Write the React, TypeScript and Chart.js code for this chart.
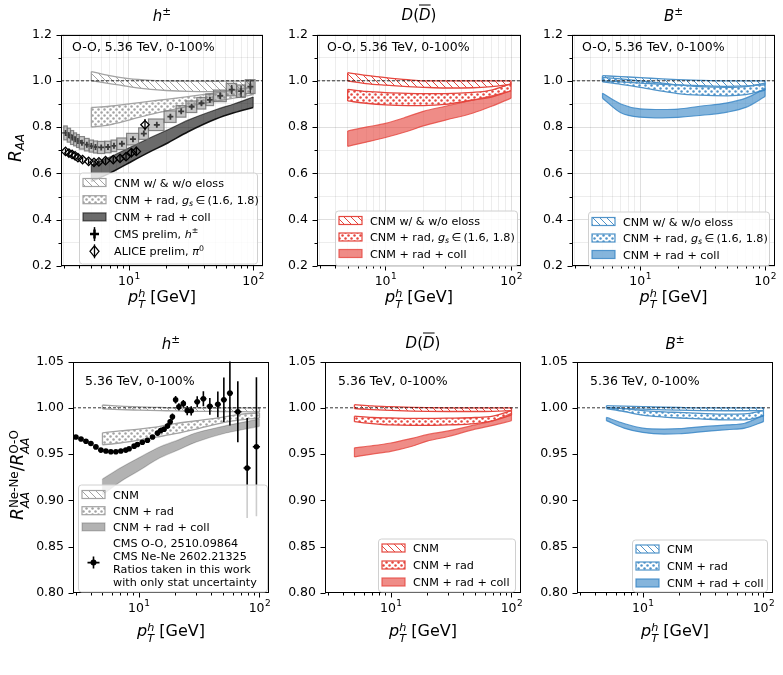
import React, { useEffect, useRef } from 'react';
import { Chart, registerables } from 'chart.js';

Chart.register(...registerables);

const FONT = '"DejaVu Sans", "Liberation Sans", sans-serif';
const X_MIN = 2.85;
const X_MAX = 120;
const X_TICKS = [3, 4, 5, 6, 7, 8, 9, 10, 20, 30, 40, 50, 60, 70, 80, 90, 100];

// theory pT grid
const PT = [5, 7, 10, 15, 20, 30, 50, 70, 100];

// ---------- O-O R_AA : h± ----------
const hCnmLo = [1.0, 0.988, 0.975, 0.963, 0.958, 0.954, 0.953, 0.96, 0.972];
const hCnmHi = [1.04, 1.022, 1.009, 1.002, 1.0, 0.999, 0.998, 0.999, 1.0];
const hRadLo = [0.8, 0.81, 0.83, 0.855, 0.87, 0.89, 0.912, 0.925, 0.94];
const hRadHi = [0.885, 0.89, 0.9, 0.912, 0.92, 0.932, 0.948, 0.96, 0.975];
const hCollLo = [0.565, 0.6, 0.645, 0.695, 0.728, 0.78, 0.835, 0.862, 0.885];
const hCollHi = [0.635, 0.67, 0.71, 0.755, 0.785, 0.83, 0.875, 0.9, 0.93];

// CMS prelim h± (O-O)
const cmsEdges = [3.0, 3.2, 3.4, 3.6, 3.8, 4.0, 4.4, 4.8, 5.2, 5.6, 6.4, 7.2, 8.0, 9.6, 12.0, 14.4, 19.2, 24.0, 28.8, 35.2, 41.6, 48.0, 60.8, 73.6, 86.4, 103.6];
const cmsPt = [3.1, 3.3, 3.5, 3.7, 3.9, 4.2, 4.6, 5.0, 5.4, 6.0, 6.8, 7.6, 8.8, 10.8, 13.2, 16.8, 21.6, 26.4, 32.0, 38.4, 44.8, 54.4, 67.2, 80.0, 95.0];
const cmsRaa = [0.775, 0.765, 0.755, 0.747, 0.74, 0.732, 0.724, 0.718, 0.714, 0.712, 0.714, 0.719, 0.728, 0.748, 0.772, 0.81, 0.845, 0.868, 0.888, 0.903, 0.918, 0.935, 0.962, 0.955, 0.975];
const cmsStat = [0.002, 0.002, 0.002, 0.002, 0.002, 0.002, 0.002, 0.002, 0.002, 0.002, 0.002, 0.002, 0.003, 0.003, 0.004, 0.005, 0.006, 0.007, 0.008, 0.01, 0.012, 0.015, 0.02, 0.025, 0.03];
const cmsSys = [0.03, 0.03, 0.03, 0.028, 0.028, 0.027, 0.027, 0.026, 0.026, 0.026, 0.025, 0.025, 0.025, 0.025, 0.025, 0.025, 0.025, 0.025, 0.025, 0.025, 0.025, 0.025, 0.027, 0.027, 0.03];

// ALICE prelim pi0 (O-O)
const alicePt = [3.1, 3.3, 3.5, 3.7, 3.9, 4.25, 4.75, 5.25, 5.75, 6.5, 7.5, 8.5, 9.5, 10.5, 11.5, 13.5];
const aliceRaa = [0.695, 0.688, 0.682, 0.676, 0.668, 0.66, 0.652, 0.648, 0.65, 0.655, 0.66, 0.665, 0.672, 0.69, 0.695, 0.81];
const aliceErr = [0.012, 0.012, 0.012, 0.012, 0.012, 0.012, 0.012, 0.012, 0.012, 0.013, 0.013, 0.014, 0.015, 0.02, 0.02, 0.025];

// ---------- O-O R_AA : D ----------
const dCnmLo = [1.0, 0.988, 0.981, 0.975, 0.972, 0.969, 0.97, 0.975, 0.985];
const dCnmHi = [1.035, 1.023, 1.014, 1.005, 1.0, 1.0, 1.0, 1.0, 1.0];
const dRadLo = [0.913, 0.903, 0.896, 0.893, 0.893, 0.898, 0.917, 0.93, 0.957];
const dRadHi = [0.963, 0.954, 0.949, 0.946, 0.945, 0.945, 0.95, 0.96, 0.988];
const dCollLo = [0.717, 0.735, 0.755, 0.782, 0.805, 0.83, 0.861, 0.89, 0.925];
const dCollHi = [0.783, 0.8, 0.816, 0.845, 0.868, 0.89, 0.917, 0.935, 0.957];

// ---------- O-O R_AA : B ----------
const bCnmLo = [1.0, 0.995, 0.99, 0.985, 0.982, 0.979, 0.976, 0.978, 0.983];
const bCnmHi = [1.022, 1.018, 1.014, 1.008, 1.005, 1.002, 1.0, 1.0, 1.0];
const bRadLo = [0.995, 0.985, 0.972, 0.955, 0.945, 0.938, 0.935, 0.94, 0.96];
const bRadHi = [1.015, 1.008, 1.0, 0.99, 0.982, 0.975, 0.972, 0.975, 0.99];
const bCollLo = [0.925, 0.862, 0.843, 0.84, 0.842, 0.85, 0.865, 0.885, 0.932];
const bCollHi = [0.946, 0.9, 0.879, 0.876, 0.878, 0.89, 0.905, 0.925, 0.967];

// ---------- Ne-Ne / O-O ratio : h± ----------
const hrCnmLo = [0.9988, 0.998, 0.9975, 0.997, 0.9966, 0.9962, 0.996, 0.9958, 0.9955];
const hrCnmHi = [1.003, 1.0018, 1.001, 1.0004, 1.0, 1.0, 1.0, 1.0, 1.0];
const hrRadLo = [0.96, 0.962, 0.965, 0.969, 0.972, 0.977, 0.984, 0.987, 0.989];
const hrRadHi = [0.973, 0.975, 0.977, 0.98, 0.983, 0.986, 0.99, 0.993, 0.9946];
const hrCollLo = [0.906, 0.92, 0.932, 0.946, 0.953, 0.963, 0.972, 0.976, 0.98];
const hrCollHi = [0.923, 0.935, 0.946, 0.958, 0.964, 0.973, 0.98, 0.984, 0.988];

// CMS Ne-Ne / O-O ratio (stat only)
const ratioPt = [3.01, 3.32, 3.65, 4.01, 4.41, 4.85, 5.34, 5.87, 6.46, 7.1, 7.8, 8.32, 9.15, 9.75, 10.7, 11.8, 13.0, 14.3, 15.2, 16.2, 17.3, 18.2, 19.0, 20.2, 21.5, 23.4, 25.2, 27.2, 30.5, 34.3, 38.8, 45.2, 50.7, 56.9, 66.2, 79.1, 94.4];
const ratioVal = [0.9684, 0.9663, 0.9639, 0.9614, 0.9578, 0.9543, 0.9533, 0.9525, 0.9525, 0.9533, 0.9543, 0.9557, 0.9586, 0.9603, 0.9628, 0.9649, 0.9684, 0.9727, 0.9755, 0.9769, 0.9804, 0.985, 0.9903, 1.0087, 1.001, 1.0045, 0.997, 0.9967, 1.0066, 1.0098, 1.0016, 1.0037, 1.0087, 1.0158, 0.9957, 0.935, 0.958];
const ratioErr = [0.0015, 0.0015, 0.0015, 0.0015, 0.0015, 0.0015, 0.0015, 0.0015, 0.0015, 0.0015, 0.0015, 0.002, 0.002, 0.002, 0.002, 0.002, 0.002, 0.0025, 0.0025, 0.003, 0.003, 0.003, 0.0035, 0.004, 0.004, 0.004, 0.005, 0.005, 0.006, 0.008, 0.009, 0.014, 0.024, 0.035, 0.033, 0.054, 0.075];

// ---------- ratio : D ----------
const drCnmLo = [0.9991, 0.998, 0.9972, 0.9965, 0.9962, 0.996, 0.996, 0.9962, 0.9968];
const drCnmHi = [1.0034, 1.002, 1.0012, 1.0005, 1.0002, 1.0, 1.0, 1.0, 1.0];
const drRadLo = [0.985, 0.983, 0.9815, 0.981, 0.981, 0.9815, 0.983, 0.986, 0.992];
const drRadHi = [0.991, 0.9895, 0.989, 0.9885, 0.9885, 0.9888, 0.9895, 0.991, 0.997];
const drCollLo = [0.947, 0.95, 0.953, 0.9585, 0.964, 0.969, 0.977, 0.981, 0.986];
const drCollHi = [0.9568, 0.959, 0.962, 0.967, 0.971, 0.975, 0.9815, 0.986, 0.994];

// ---------- ratio : B ----------
const brCnmLo = [1.0, 0.9992, 0.9985, 0.9978, 0.9974, 0.997, 0.9968, 0.9968, 0.997];
const brCnmHi = [1.0023, 1.0018, 1.0012, 1.0006, 1.0003, 1.0, 1.0, 1.0, 1.0];
const brRadLo = [0.9992, 0.996, 0.992, 0.99, 0.989, 0.988, 0.987, 0.987, 0.991];
const brRadHi = [1.0005, 0.999, 0.997, 0.9955, 0.995, 0.994, 0.9932, 0.9935, 0.997];
const brCollLo = [0.9861, 0.978, 0.9734, 0.9716, 0.972, 0.974, 0.9765, 0.978, 0.985];
const brCollHi = [0.9896, 0.983, 0.978, 0.977, 0.9775, 0.9795, 0.9815, 0.9833, 0.992];

// ---------- styles ----------
const GRAY = '#a3a3a3';
const RED = '#e5463e';
const BLUE = '#4f93c9';

type Seg = { t: string; i?: boolean; sub?: boolean; sup?: boolean };
type Kind = 'hatch' | 'dots' | 'fill';
interface Band { lo: number[]; hi: number[]; kind: Kind; edge: string; ink: string; lw?: number; loEdge?: string }
interface Series { kind: 'cms' | 'alice' | 'ratio'; x: number[]; y: number[]; err: number[]; sys?: number[]; edges?: number[] }
interface LegItem { sw: Kind | 'cms' | 'alice' | 'ratio'; band?: number; lines: Seg[][] }
interface PanelSpec {
  area: [number, number, number, number];
  yMin: number; yMax: number; yStep: number; minorY: boolean; digits: number; grid: boolean;
  bands: Band[]; series: Series[];
  note: string; noteAt: [number, number];
  legend: { rect: [number, number, number, number]; first: number; rowH: number; lineH: number; items: LegItem[] };
}

const T = (t: string): Seg => ({ t });
const I = (t: string): Seg => ({ t, i: true });

const topLegend = (gray: boolean): LegItem[] => {
  const base: LegItem[] = [
    { sw: 'hatch', band: 0, lines: [[T('CNM w/ & w/o eloss')]] },
    { sw: 'dots', band: 1, lines: [[T('CNM + rad, '), I('g'), { t: 's', i: true, sub: true }, T('\u2009\u2208\u2009(1.6, 1.8)')]] },
    { sw: 'fill', band: 2, lines: [[T('CNM + rad + coll')]] },
  ];
  if (gray) {
    base.push({ sw: 'cms', lines: [[T('CMS prelim, '), I('h'), { t: '\u00b1', sup: true }]] });
    base.push({ sw: 'alice', lines: [[T('ALICE prelim, '), I('\u03c0'), { t: '0', sup: true }]] });
  }
  return base;
};
const botLegend = (gray: boolean): LegItem[] => {
  const base: LegItem[] = [
    { sw: 'hatch', band: 0, lines: [[T('CNM')]] },
    { sw: 'dots', band: 1, lines: [[T('CNM + rad')]] },
    { sw: 'fill', band: 2, lines: [[T('CNM + rad + coll')]] },
  ];
  if (gray) {
    base.push({ sw: 'ratio', lines: [[T('CMS O-O, 2510.09864')], [T('CMS Ne-Ne 2602.21325')], [T('Ratios taken in this work')], [T('with only stat uncertainty')]] });
  }
  return base;
};

const mkBands = (c: string, fillC: string, collEdge: string, lo: number[][], hi: number[][], loEdge?: string): Band[] => [
  { lo: lo[0], hi: hi[0], kind: 'hatch', edge: c, ink: c },
  { lo: lo[1], hi: hi[1], kind: 'dots', edge: c, ink: c },
  { lo: lo[2], hi: hi[2], kind: 'fill', edge: collEdge, ink: fillC, loEdge },
];

const PANELS: PanelSpec[] = [
  {
    area: [61, 30, 263, 266], yMin: 0.2, yMax: 1.2, yStep: 0.1, minorY: true, digits: 1, grid: true,
    bands: mkBands(GRAY, 'rgba(0,0,0,0.58)', 'rgba(0,0,0,0.6)', [hCnmLo, hRadLo, hCollLo], [hCnmHi, hRadHi, hCollHi], 'rgba(0,0,0,0.9)'),
    series: [
      { kind: 'cms', x: cmsPt, y: cmsRaa, err: cmsStat, sys: cmsSys, edges: cmsEdges },
      { kind: 'alice', x: alicePt, y: aliceRaa, err: aliceErr },
    ],
    note: 'O-O, 5.36 TeV, 0-100%', noteAt: [11, 13],
    legend: { rect: [18, 138, 178, 91], first: 10, rowH: 17.2, lineH: 13, items: topLegend(true) },
  },
  {
    area: [317, 30, 521, 266], yMin: 0.2, yMax: 1.2, yStep: 0.1, minorY: true, digits: 1, grid: true,
    bands: mkBands(RED, 'rgba(229,70,62,0.62)', 'rgba(229,70,62,0.8)', [dCnmLo, dRadLo, dCollLo], [dCnmHi, dRadHi, dCollHi]),
    series: [],
    note: 'O-O, 5.36 TeV, 0-100%', noteAt: [10, 13],
    legend: { rect: [18, 176, 182, 55], first: 10, rowH: 16.5, lineH: 13, items: topLegend(false) },
  },
  {
    area: [572, 30, 775, 266], yMin: 0.2, yMax: 1.2, yStep: 0.1, minorY: true, digits: 1, grid: true,
    bands: mkBands(BLUE, 'rgba(52,131,196,0.6)', 'rgba(52,131,196,0.8)', [bCnmLo, bRadLo, bCollLo], [bCnmHi, bRadHi, bCollHi]),
    series: [],
    note: 'O-O, 5.36 TeV, 0-100%', noteAt: [10, 13],
    legend: { rect: [16, 177, 181, 54], first: 10, rowH: 16.5, lineH: 13, items: topLegend(false) },
  },
  {
    area: [73, 357, 269, 593], yMin: 0.8, yMax: 1.05, yStep: 0.05, minorY: false, digits: 2, grid: false,
    bands: mkBands(GRAY, 'rgba(0,0,0,0.3)', 'rgba(0,0,0,0.2)', [hrCnmLo, hrRadLo, hrCollLo], [hrCnmHi, hrRadHi, hrCollHi]),
    series: [{ kind: 'ratio', x: ratioPt, y: ratioVal, err: ratioErr }],
    note: '5.36 TeV, 0-100%', noteAt: [12, 20],
    legend: { rect: [5, 123, 189, 107], first: 10, rowH: 16.2, lineH: 13, items: botLegend(true) },
  },
  {
    area: [325, 357, 521, 593], yMin: 0.8, yMax: 1.05, yStep: 0.05, minorY: false, digits: 2, grid: false,
    bands: mkBands(RED, 'rgba(229,70,62,0.62)', 'rgba(229,70,62,0.8)', [drCnmLo, drRadLo, drCollLo], [drCnmHi, drRadHi, drCollHi]),
    series: [],
    note: '5.36 TeV, 0-100%', noteAt: [13, 20],
    legend: { rect: [53, 177, 137, 53], first: 9.5, rowH: 17, lineH: 13, items: botLegend(false) },
  },
  {
    area: [577, 357, 773, 593], yMin: 0.8, yMax: 1.05, yStep: 0.05, minorY: false, digits: 2, grid: false,
    bands: mkBands(BLUE, 'rgba(52,131,196,0.6)', 'rgba(52,131,196,0.8)', [brCnmLo, brRadLo, brCollLo], [brCnmHi, brRadHi, brCollHi]),
    series: [],
    note: '5.36 TeV, 0-100%', noteAt: [13, 20],
    legend: { rect: [55, 178, 135, 52], first: 9.5, rowH: 17, lineH: 13, items: botLegend(false) },
  },
];

// ---------- canvas helpers ----------
function makeHatch(color: string, s = 7, lw = 1): CanvasPattern {
  const c = document.createElement('canvas');
  c.width = s; c.height = s;
  const g = c.getContext('2d')!;
  g.strokeStyle = color; g.lineWidth = lw;
  g.beginPath();
  g.moveTo(-1, -1); g.lineTo(s + 1, s + 1);
  g.moveTo(s - 1, -1); g.lineTo(s + 1, 1);
  g.moveTo(-1, s - 1); g.lineTo(1, s + 1);
  g.stroke();
  return g.createPattern(c, 'repeat')!;
}
function makeDots(color: string, s = 6, r = 1.25): CanvasPattern {
  const c = document.createElement('canvas');
  c.width = s; c.height = s;
  const g = c.getContext('2d')!;
  g.fillStyle = color;
  for (const [x, y] of [[s * 0.25, s * 0.25], [s * 0.75, s * 0.75]]) {
    g.beginPath(); g.arc(x, y, r, 0, Math.PI * 2); g.fill();
  }
  return g.createPattern(c, 'repeat')!;
}

function drawRich(ctx: CanvasRenderingContext2D, segs: Seg[], x: number, y: number, size: number) {
  let cx = x;
  ctx.textBaseline = 'alphabetic';
  ctx.textAlign = 'left';
  for (const s of segs) {
    const fs = s.sub || s.sup ? size * 0.7 : size;
    ctx.font = `${s.i ? 'italic ' : ''}${fs}px ${FONT}`;
    const dy = s.sub ? size * 0.22 : s.sup ? -size * 0.42 : 0;
    ctx.fillText(s.t, cx, y + dy);
    cx += ctx.measureText(s.t).width;
  }
}

function drawSeries(chart: any, s: Series, part: 'under' | 'over') {
  const { ctx, chartArea: a, scales } = chart;
  const X = scales.x, Y = scales.y;
  ctx.save();
  ctx.beginPath(); ctx.rect(a.left, a.top, a.right - a.left, a.bottom - a.top); ctx.clip();
  if (s.kind === 'cms') {
    if (part === 'under') {
      ctx.strokeStyle = '#000'; ctx.lineWidth = 1.5;
      s.x.forEach((x, i) => {
        const px = X.getPixelForValue(x);
        ctx.beginPath();
        ctx.moveTo(px, Y.getPixelForValue(s.y[i] - s.err[i]));
        ctx.lineTo(px, Y.getPixelForValue(s.y[i] + s.err[i]));
        ctx.stroke();
      });
    } else {
      s.x.forEach((x, i) => {
        const x0 = X.getPixelForValue(s.edges![i]);
        const x1 = X.getPixelForValue(s.edges![i + 1]);
        const y0 = Y.getPixelForValue(s.y[i] + s.sys![i]);
        const y1 = Y.getPixelForValue(s.y[i] - s.sys![i]);
        ctx.fillStyle = 'rgba(128,128,128,0.45)';
        ctx.fillRect(x0, y0, x1 - x0, y1 - y0);
        ctx.strokeStyle = 'rgba(110,110,110,0.8)'; ctx.lineWidth = 1.2;
        ctx.strokeRect(x0, y0, x1 - x0, y1 - y0);
      });
    }
  } else if (s.kind === 'alice') {
    ctx.strokeStyle = '#000'; ctx.lineWidth = 1.3;
    s.x.forEach((x, i) => {
      const px = X.getPixelForValue(x);
      ctx.beginPath();
      ctx.moveTo(px, Y.getPixelForValue(s.y[i] - s.err[i]));
      ctx.lineTo(px, Y.getPixelForValue(s.y[i] + s.err[i]));
      ctx.stroke();
    });
  } else if (s.kind === 'ratio') {
    ctx.strokeStyle = '#000'; ctx.lineWidth = 1.6;
    const lg = s.x.map((v) => Math.log10(v));
    s.x.forEach((x, i) => {
      const px = X.getPixelForValue(x);
      const py = Y.getPixelForValue(s.y[i]);
      const dl = i > 0 ? (lg[i] - lg[i - 1]) / 2 : (lg[1] - lg[0]) / 2;
      const dr = i < lg.length - 1 ? (lg[i + 1] - lg[i]) / 2 : (lg[i] - lg[i - 1]) / 2;
      const hw = Math.min(dl, dr, 0.03);
      ctx.beginPath();
      ctx.moveTo(px, Y.getPixelForValue(s.y[i] - s.err[i]));
      ctx.lineTo(px, Y.getPixelForValue(s.y[i] + s.err[i]));
      ctx.moveTo(X.getPixelForValue(Math.pow(10, lg[i] - hw)), py);
      ctx.lineTo(X.getPixelForValue(Math.pow(10, lg[i] + hw)), py);
      ctx.stroke();
    });
  }
  ctx.restore();
}

function drawSwatch(ctx: CanvasRenderingContext2D, it: LegItem, spec: PanelSpec, pats: (CanvasPattern | string)[], x: number, cy: number) {
  const w = 23, h = 8;
  if (it.sw === 'hatch' || it.sw === 'dots' || it.sw === 'fill') {
    const b = spec.bands[it.band!];
    ctx.fillStyle = pats[it.band!] as any;
    ctx.fillRect(x, cy - h / 2, w, h);
    ctx.strokeStyle = b.edge; ctx.lineWidth = 1.2;
    ctx.strokeRect(x, cy - h / 2, w, h);
    return;
  }
  const mx = x + w / 2;
  ctx.strokeStyle = '#000'; ctx.fillStyle = '#000';
  if (it.sw === 'cms') {
    ctx.lineWidth = 1.5;
    ctx.beginPath(); ctx.moveTo(mx, cy - 7); ctx.lineTo(mx, cy + 7); ctx.stroke();
    ctx.lineWidth = 2.5;
    ctx.beginPath(); ctx.moveTo(mx - 4.5, cy); ctx.lineTo(mx + 4.5, cy); ctx.moveTo(mx, cy - 4.5); ctx.lineTo(mx, cy + 4.5); ctx.stroke();
  } else if (it.sw === 'alice') {
    ctx.lineWidth = 1.3;
    ctx.beginPath(); ctx.moveTo(mx, cy - 7); ctx.lineTo(mx, cy + 7); ctx.stroke();
    ctx.beginPath(); ctx.moveTo(mx, cy - 5.5); ctx.lineTo(mx + 4.5, cy); ctx.lineTo(mx, cy + 5.5); ctx.lineTo(mx - 4.5, cy); ctx.closePath(); ctx.stroke();
  } else if (it.sw === 'ratio') {
    ctx.lineWidth = 1.6;
    ctx.beginPath(); ctx.moveTo(mx, cy - 6); ctx.lineTo(mx, cy + 6); ctx.moveTo(mx - 6, cy); ctx.lineTo(mx + 6, cy); ctx.stroke();
    ctx.beginPath(); ctx.arc(mx, cy, 3, 0, Math.PI * 2); ctx.fill();
  }
}

function makePlugin(spec: PanelSpec, seriesAt: Map<number, Series>, pats: (CanvasPattern | string)[]) {
  return {
    id: 'panelDeco',
    beforeDatasetDraw(chart: any, args: any) {
      const s = seriesAt.get(args.index);
      if (s) drawSeries(chart, s, 'under');
    },
    afterDatasetDraw(chart: any, args: any) {
      const s = seriesAt.get(args.index);
      if (s && s.kind === 'cms') drawSeries(chart, s, 'over');
    },
    afterDatasetsDraw(chart: any) {
      const { ctx, chartArea: a, scales } = chart;
      ctx.save();
      ctx.strokeStyle = '#000'; ctx.lineWidth = 1;
      const L = Math.round(a.left) + 0.5, R = Math.round(a.right) - 0.5;
      const Tp = Math.round(a.top) + 0.5, B = Math.round(a.bottom) - 0.5;
      ctx.strokeRect(L, Tp, R - L, B - Tp);
      ctx.beginPath();
      for (const v of X_TICKS) {
        const px = Math.round(scales.x.getPixelForValue(v)) + 0.5;
        const len = v === 10 || v === 100 ? 5 : 3;
        ctx.moveTo(px, B); ctx.lineTo(px, B + len);
      }
      for (const t of scales.y.ticks) {
        const py = Math.round(scales.y.getPixelForValue(t.value)) + 0.5;
        const major = spec.minorY ? Math.round(t.value * 10) % 2 === 0 : true;
        ctx.moveTo(L, py); ctx.lineTo(L - (major ? 5 : 3), py);
      }
      ctx.stroke();
      ctx.fillStyle = '#000';
      for (const [v, e] of [[10, '1'], [100, '2']] as [number, string][]) {
        const px = scales.x.getPixelForValue(v);
        ctx.font = `12.5px ${FONT}`;
        const w1 = ctx.measureText('10').width;
        ctx.font = `9px ${FONT}`;
        const w2 = ctx.measureText(e).width;
        const x0 = px - (w1 + w2) / 2;
        ctx.textBaseline = 'alphabetic'; ctx.textAlign = 'left';
        ctx.font = `12.5px ${FONT}`;
        ctx.fillText('10', x0, B + 19);
        ctx.font = `9px ${FONT}`;
        ctx.fillText(e, x0 + w1 + 0.5, B + 13);
      }
      ctx.restore();
    },
    afterDraw(chart: any) {
      const { ctx, chartArea: a } = chart;
      ctx.save();
      ctx.fillStyle = '#000';
      ctx.font = `12.5px ${FONT}`;
      ctx.textBaseline = 'middle'; ctx.textAlign = 'left';
      ctx.fillText(spec.note, a.left + spec.noteAt[0], a.top + spec.noteAt[1]);
      const lg = spec.legend;
      const lx = a.left + lg.rect[0], ly = a.top + lg.rect[1], lw = lg.rect[2], lh = lg.rect[3];
      ctx.beginPath();
      (ctx as any).roundRect(lx + 0.5, ly + 0.5, lw, lh, 3);
      ctx.fillStyle = 'rgba(255,255,255,0.8)';
      ctx.fill();
      ctx.strokeStyle = '#d0d0d0'; ctx.lineWidth = 1;
      ctx.stroke();
      let cy = ly + lg.first;
      for (const it of lg.items) {
        const nl = it.lines.length;
        const centre = nl === 1 ? cy : cy + ((nl - 1) * lg.lineH) / 2;
        drawSwatch(ctx, it, spec, pats, lx + 4, centre);
        ctx.fillStyle = '#000';
        it.lines.forEach((ln, k) => drawRich(ctx, ln, lx + 35, cy + k * lg.lineH + 4, 11.2));
        cy += nl === 1 ? lg.rowH : nl * lg.lineH;
      }
      ctx.restore();
    },
  };
}

const PAD_L = 60, PAD_T = 12, PAD_R = 12, PAD_B = 32;

function Panel({ spec }: { spec: PanelSpec }) {
  const ref = useRef<HTMLCanvasElement | null>(null);
  const [L, Tp, R, B] = spec.area;
  const W = R - L + PAD_L + PAD_R;
  const H = B - Tp + PAD_T + PAD_B;
  useEffect(() => {
    const canvas = ref.current!;
    const pats: (CanvasPattern | string)[] = spec.bands.map((b) =>
      b.kind === 'hatch' ? makeHatch(b.ink, 7, 1) : b.kind === 'dots' ? makeDots(b.ink, 6, 1.25) : b.ink
    );
    const datasets: any[] = [];
    const seriesAt = new Map<number, Series>();
    spec.bands.forEach((b, bi) => {
      const lw = b.kind === 'fill' ? 1.2 : 1.3;
      datasets.push({
        data: PT.map((x, i) => ({ x, y: b.lo[i] })), borderColor: b.loEdge || b.edge, borderWidth: b.loEdge ? 1.6 : lw,
        pointRadius: 0, fill: false, cubicInterpolationMode: 'monotone',
      });
      datasets.push({
        data: PT.map((x, i) => ({ x, y: b.hi[i] })), borderColor: b.edge, borderWidth: lw,
        pointRadius: 0, fill: '-1', backgroundColor: pats[bi], cubicInterpolationMode: 'monotone',
      });
      datasets.push({ data: [{ x: PT[0], y: b.lo[0] }, { x: PT[0], y: b.hi[0] }], borderColor: b.edge, borderWidth: lw, pointRadius: 0, fill: false });
      const n = PT.length - 1;
      datasets.push({ data: [{ x: PT[n], y: b.lo[n] }, { x: PT[n], y: b.hi[n] }], borderColor: b.edge, borderWidth: lw, pointRadius: 0, fill: false });
    });
    spec.series.forEach((s) => {
      seriesAt.set(datasets.length, s);
      const style =
        s.kind === 'cms'
          ? { pointStyle: 'cross', pointRadius: 3, pointBorderWidth: 1.8, pointBorderColor: '#000', pointBackgroundColor: '#000' }
          : s.kind === 'alice'
          ? { pointStyle: 'rectRot', pointRadius: 4.2, pointBorderWidth: 1.3, pointBorderColor: '#000', pointBackgroundColor: 'rgba(0,0,0,0)' }
          : { pointStyle: 'circle', pointRadius: 2.8, pointBorderWidth: 0, pointBorderColor: '#000', pointBackgroundColor: '#000' };
      datasets.push({ data: s.x.map((x, i) => ({ x, y: s.y[i] })), showLine: false, fill: false, ...style });
    });
    datasets.push({
      data: [{ x: X_MIN, y: 1 }, { x: X_MAX, y: 1 }], borderColor: '#000', borderWidth: 0.8, borderDash: [3, 2],
      pointRadius: 0, fill: false,
    });
    datasets.forEach((d, i) => { d.order = datasets.length - i; });

    const gridColor = (major: boolean) => (major ? 'rgba(0,0,0,0.16)' : 'rgba(0,0,0,0.09)');
    const chart = new Chart(canvas, {
      type: 'line',
      data: { datasets },
      plugins: [makePlugin(spec, seriesAt, pats)],
      options: {
        animation: false,
        responsive: false,
        devicePixelRatio: 1,
        events: [],
        layout: { padding: { left: 0, top: PAD_T, right: PAD_R, bottom: 0 } },
        plugins: { legend: { display: false }, tooltip: { enabled: false }, title: { display: false } },
        scales: {
          x: {
            type: 'logarithmic', min: X_MIN, max: X_MAX,
            afterBuildTicks: (s: any) => { s.ticks = X_TICKS.map((v) => ({ value: v })); },
            afterFit: (s: any) => { s.height = PAD_B; },
            ticks: { display: false },
            border: { display: false },
            grid: {
              display: spec.grid, drawTicks: false, lineWidth: 0.8,
              color: (c: any) => gridColor(c.tick && (c.tick.value === 10 || c.tick.value === 100)),
            },
          },
          y: {
            type: 'linear', min: spec.yMin, max: spec.yMax,
            afterFit: (s: any) => { s.width = PAD_L; },
            ticks: {
              stepSize: spec.yStep, autoSkip: false, padding: 9, color: '#000',
              font: { family: FONT, size: 12.5 },
              callback: (v: any) => {
                const n = Number(v);
                if (spec.minorY && Math.round(n * 10) % 2 !== 0) return '';
                return n.toFixed(spec.digits);
              },
            },
            border: { display: false },
            grid: {
              display: spec.grid, drawTicks: false, lineWidth: 0.8,
              color: (c: any) => gridColor(c.tick && Math.round(c.tick.value * 10) % 2 === 0),
            },
          },
        },
      } as any,
    });
    return () => chart.destroy();
  }, [spec]);
  return (
    <canvas
      ref={ref}
      width={W}
      height={H}
      style={{ position: 'absolute', left: L - PAD_L, top: Tp - PAD_T, width: W, height: H }}
    />
  );
}

const abs = (x: number, y: number, size: number, rotate = false): React.CSSProperties => ({
  position: 'absolute', left: x, top: y, fontSize: size, whiteSpace: 'nowrap', lineHeight: 1, color: '#000',
  transform: `translate(-50%, -50%)${rotate ? ' rotate(-90deg)' : ''}`,
});
const stack = (top: React.ReactNode, bottom: React.ReactNode) => (
  <span style={{ display: 'inline-flex', flexDirection: 'column', fontSize: '0.7em', lineHeight: 0.95, verticalAlign: '0.45em', alignItems: 'flex-start' }}>
    <span>{top}</span>
    <span>{bottom}</span>
  </span>
);
const pLabel = (
  <span>
    <i>p</i>
    {stack(<i>h</i>, <i>T</i>)}
    {' [GeV]'}
  </span>
);
const pm = <span style={{ fontSize: '0.7em', verticalAlign: '0.55em' }}>{'\u00b1'}</span>;
const titleH = <span><i>h</i>{pm}</span>;
const titleD = <span><i>D</i>(<i style={{ textDecoration: 'overline', textDecorationThickness: '1px' }}>D</i>)</span>;
const titleB = <span><i>B</i>{pm}</span>;

export default function App() {
  const centers = PANELS.map((p) => (p.area[0] + p.area[2]) / 2);
  return (
    <div style={{ position: 'absolute', left: 0, top: 0, width: 783, height: 675, background: '#fff', overflow: 'hidden', fontFamily: FONT }}>
      {PANELS.map((p, i) => <Panel key={i} spec={p} />)}
      <div style={abs(centers[0], 15, 15)}>{titleH}</div>
      <div style={abs(centers[1], 15, 15)}>{titleD}</div>
      <div style={abs(centers[2], 15, 15)}>{titleB}</div>
      <div style={abs(centers[3], 343, 15)}>{titleH}</div>
      <div style={abs(centers[4], 343, 15)}>{titleD}</div>
      <div style={abs(centers[5], 343, 15)}>{titleB}</div>
      {[0, 1, 2].map((i) => <div key={'xl' + i} style={abs(centers[i], 300, 16)}>{pLabel}</div>)}
      {[3, 4, 5].map((i) => <div key={'xl' + i} style={abs(centers[i], 634, 16)}>{pLabel}</div>)}
      <div style={abs(17, 148, 17, true)}>
        <i>R</i><span style={{ fontSize: '0.7em', verticalAlign: '-0.3em' }}><i>AA</i></span>
      </div>
      <div style={abs(20, 475, 17, true)}>
        <i>R</i>{stack('Ne-Ne', <i>AA</i>)}/<i>R</i>{stack('O-O', <i>AA</i>)}
      </div>
    </div>
  );
}
